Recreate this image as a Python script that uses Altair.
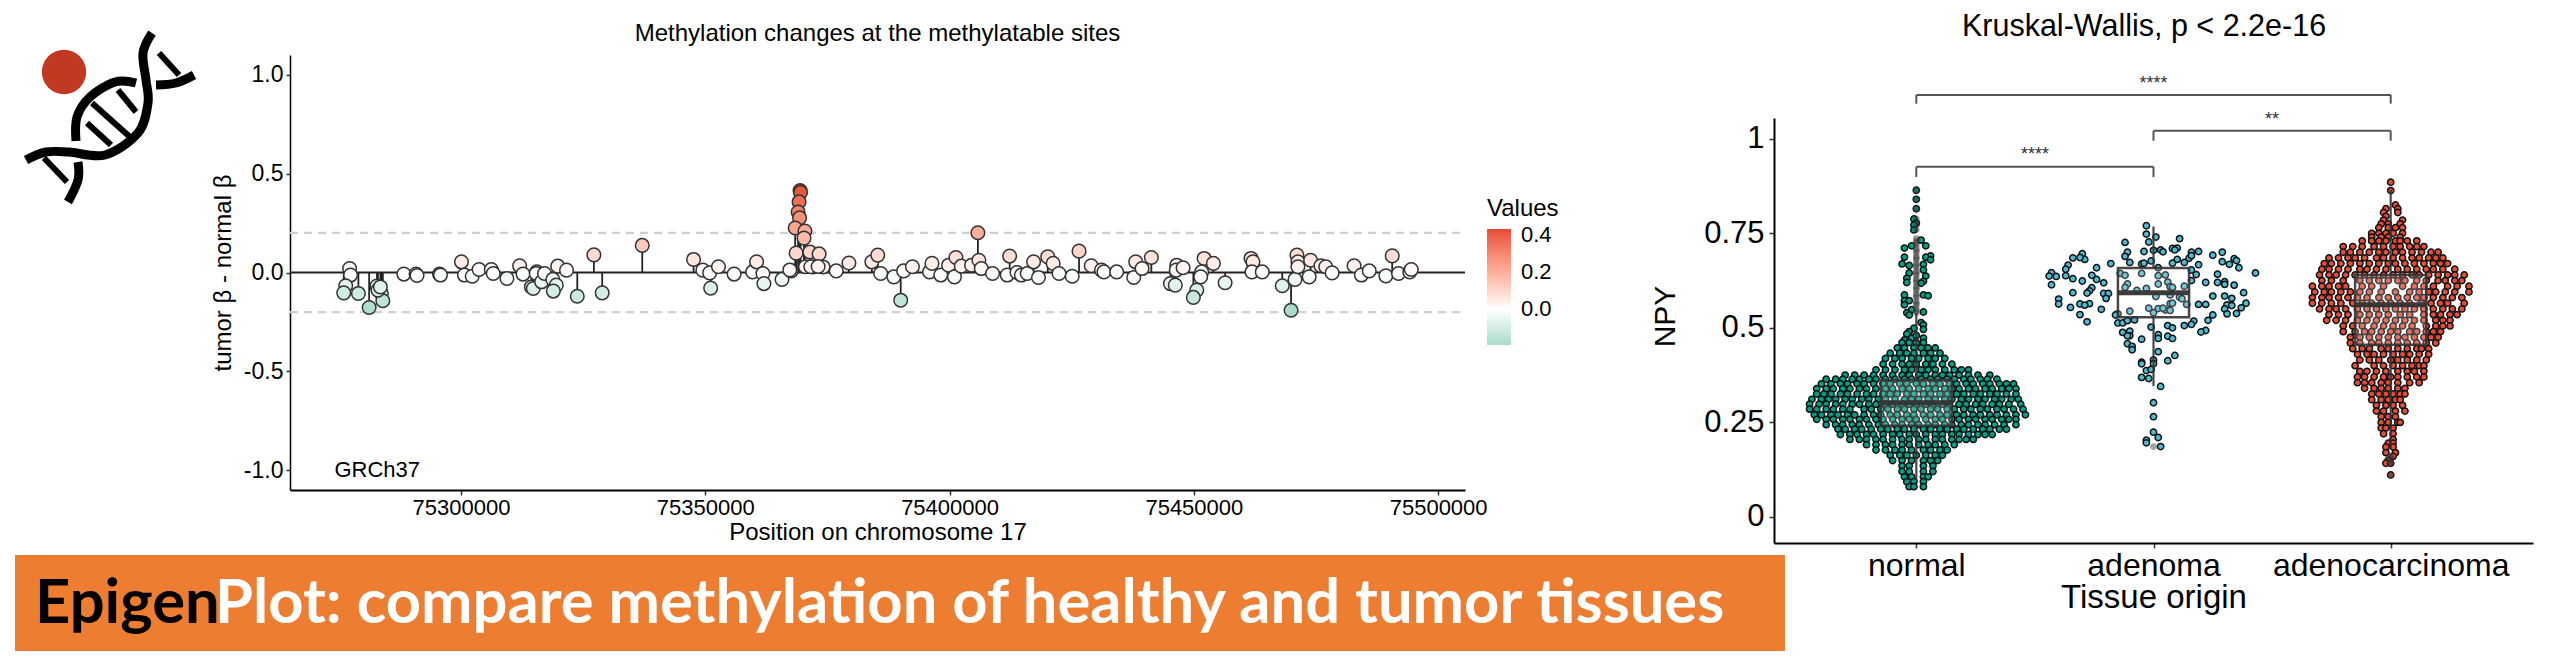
import altair as alt
import pandas as pd

FONT = "Liberation Sans"

# ---------- methylation lollipop: position (kb on chr17), tumor beta - normal beta
POS_KB = [75277.2,75277.4,75276.4,75276.0,75279.0,75281.2,75282.8,75283.7,75284.0,75283.0,75283.5,75288.3,75290.8,75291.0,75295.6,75295.8,
75300.1,75300.7,75302.3,75303.7,75306.2,75306.6,75309.4,75312.0,75312.7,75314.4,75314.8,75315.5,75315.4,75316.5,75317.1,75318.8,75319.5,75318.9,75319.8,75321.6,75323.8,
75327.2,75328.9,75337.1,75347.6,75349.5,75350.9,75351.1,75352.7,75355.9,75359.7,75360.5,75361.8,75362.0,75365.7,75367.6,
75369.4,75369.5,75369.2,75369.0,75369.3,75368.4,75370.4,75370.2,75368.6,75371.4,75373.3,75379.4,75372.1,75367.3,75376.8,75374.1,75370.5,75371.6,75373.1,
75384.1,75385.3,75385.9,75388.6,75390.0,75390.6,75392.4,75395.9,75396.4,75398.2,75399.8,75401.0,75401.3,75402.4,75404.5,75405.8,75406.0,75406.5,75408.8,
75411.8,75412.3,75413.8,75414.7,75415.9,75417.2,75418.2,75420.1,75421.2,75422.4,75425.1,75426.5,75429.0,75431.1,75431.6,75434.2,75437.7,75438.1,75439.4,75441.3,
75445.2,75446.2,75446.5,75446.4,75447.8,75450.6,75449.9,75452.1,75451.6,75454.0,75451.4,75456.4,75461.7,75462.1,75461.9,75464.0,75468.1,75469.9,75470.7,75471.1,75471.3,75471.3,
75473.6,75473.9,75476.0,75477.0,75478.3,75482.8,75484.3,75485.9,75489.3,75490.6,75491.9,75494.2,75494.5]
DELTA = [.020,-.013,-.067,-.103,-.106,-.177,-.069,-.106,-.143,-.089,-.073,-.008,-.008,-.015,-.008,-.013,
.054,-.013,-.019,.015,.015,-.005,-.030,.034,-.008,-.073,-.081,.003,-.005,-.047,-.005,-.035,-.064,-.094,.032,.012,-.120,
.089,-.103,.137,.066,.012,-.002,-.079,.029,-.008,.003,.054,-.005,-.056,-.035,.008,
.414,.405,.357,.306,.276,.225,.21,.174,.098,.104,.094,.048,.028,.013,.008,.028,.029,.029,.03,
.054,.088,-.005,-.022,-.140,.008,.029,.003,.046,-.013,.037,-.022,.076,.032,.037,.201,.062,.020,-.005,
-.013,.083,0,-.013,-.005,.054,-.025,.079,.046,-.005,-.019,.108,.034,.012,.003,.003,-.025,.054,.020,.076,
-.056,-.064,.037,.012,.024,-.089,-.126,.071,.003,.046,-.022,-.052,.071,.054,.003,.003,-.067,-.191,-.035,.088,.054,.029,
-.022,.062,.034,.029,-.002,.034,-.013,.008,-.017,.084,-.005,.003,.015]
X_TICKS = [75300000, 75350000, 75400000, 75450000, 75500000]
Y_TICKS = [-1.0, -0.5, 0.0, 0.5, 1.0]

# ---------- NPY swarm: (NPY, offsets from the category centre in 1/100 category)
NORMAL_PAIRS = [(0,.864),(0,.840),(0,.815),(-1,.788),(0,.777),(-1,.772),(-1,.759),(2,.732),(4,.717),(-5,.711),(-2,.717),(-5,.687),(6,.690),(4,.687),(6,.680),
(-6,.669),(-3,.665),(3,.668),(3,.653),(-3,.645),(4,.637),(-4,.631),(3,.623),(-4,.620),(2,.618),(-5,.587),(3,.587),(5,.585),(-5,.572),(-3,.572),(-5,.561),
(-2,.548),(-4,.540),(-3,.534),(3,.542),(2,.514),(3,.508),(-1,.499),(-3,.490),(3,.496),(-5,.468),(-2,.473),(3,.473),(-4,.484),(0,.480)]
NORMAL_ROWS = [
(.461,[-6,-3,0,3]),
(.447,[-8,-5,-1,2,5,8]),
(.433,[-11,-7,-4,-1,3,6,10]),
(.419,[-13,-9,-6,-2,1,5,8,12]),
(.404,[-14,-10,-6,-3,0,4,7,11,15]),
(.389,[-17,-13,-9,-5,-2,2,5,8,12,16,19,22]),
(.375,[-30,-26,-22,-18,-14,-10,-6,-3,1,4,8,11,14,18,22,26,31]),
(.364,[-38,-34,-31,-27,-24,-20,-17,-13,-9,-5,-2,2,6,9,13,16,20,23,27,30,34]),
(.352,[-40,-36,-32,-29,-25,-22,-18,-14,-11,-7,-4,0,3,7,10,14,17,21,24,28,31,35,38,41]),
(.339,[-42,-38,-35,-31,-28,-24,-21,-17,-13,-10,-6,-3,1,5,8,12,15,18,22,25,29,32,36,39,42]),
(.325,[-42,-39,-36,-32,-29,-25,-21,-18,-14,-11,-8,-4,-1,3,6,10,13,17,20,24,27,31,34,38,42]),
(.311,[-44,-40,-37,-34,-30,-27,-23,-20,-16,-13,-9,-5,-2,1,5,8,12,15,19,22,26,29,33,36,40,43]),
(.298,[-45,-41,-38,-34,-31,-27,-24,-20,-17,-13,-10,-6,-3,0,4,7,11,14,18,21,25,28,32,35,39,44]),
(.285,[-45,-42,-38,-35,-31,-28,-22,-19,-15,-12,-8,-5,-1,2,6,9,13,16,20,23,27,30,34,37,41,45]),
(.270,[-43,-40,-36,-33,-29,-26,-22,-18,-15,-11,-8,-4,-1,3,6,10,13,17,20,24,27,31,34,38,42,46]),
(.258,[-42,-38,-35,-31,-28,-24,-21,-17,-14,-10,-6,-3,0,4,8,11,15,18,22,25,29,32,36,39,42]),
(.244,[-38,-34,-31,-27,-24,-20,-16,-13,-9,-6,-2,1,5,8,12,15,19,22,26,29,33,37,42]),
(.232,[-33,-30,-26,-23,-19,-15,-12,-8,-5,-1,3,6,10,13,17,20,24,28,31,35,38]),
(.218,[-32,-28,-25,-21,-18,-14,-10,-7,-3,0,4,8,11,15,18,22,26,29,32]),
(.205,[-28,-24,-21,-17,-14,-10,-6,-3,1,4,8,11,15,18,21,24]),
(.191,[-21,-17,-13,-10,-6,-3,1,5,8,12,16]),
(.177,[-17,-13,-9,-6,-2,3,6,10,13]),
(.163,[-11,-7,-4,0,4,8,11]),
(.149,[-10,-6,-2,3,6,9]),
(.135,[-6,-3,3,7]),
(.120,[-6,-3,3,7]),
(.106,[-5,-2,3,5]),
(.093,[-4,-1,3]),
(.080,[-3,-1,3]),
]
ADENOMA_PAIRS = [(-3,.770),(-3,.748),(1,.740),(-2,.727),(11,.736),(-12,.726),(-11,.700),(-12,.689),(-4,.702),(0,.705),(3,.706),(4,.701),(8,.710),(10,.711),(9,.706),(16,.700),(19,.702),(15,.684),(16,.691),(25,.692),(29,.700),(29,.675),(32,.668),(34,.683),(35,.678),(36,.659),(43,.645),
(-30,.696),(-34,.685),(-29,.681),(-31,.686),(-36,.666),(-37,.655),(-37,.638),(-43,.646),(-44,.637),(-41,.636),(-34,.630),(-43,.614),(-30,.624),(-24,.659),(-26,.639),(-24,.628),(-21,.619),(-18,.670),(-10,.673),(-5,.669),(-4,.671),(-1,.677),(10,.681),(8,.671),(13,.673),(19,.667),(18,.641),(16,.653),(16,.625),(22,.620),(27,.642),(27,.620),(30,.622),(30,.615),(34,.613),(38,.593),(25,.584),(30,.584),(33,.578),(31,.561),(39,.565),(37,.553),(33,.559),(30,.550),(31,.537),(35,.538),(25,.534),(23,.520),(19,.562),(22,.562),(17,.518),(16,.509),(13,.506),(22,.493),(20,.489),
(-26,.606),(-27,.598),(-28,.592),(-34,.593),(-21,.591),(-19,.591),(-20,.578),(-40,.576),(-40,.563),(-35,.554),(-31,.563),(-27,.564),(-29,.560),(-22,.549),(-31,.535),(-28,.516),(-15,.537),(-16,.534),
(-14,.644),(-12,.639),(-5,.644),(2,.659),(2,.638),(5,.640),(-11,.616),(-12,.607),(2,.616),(6,.621),(7,.609),(13,.610),(-7,.599),(-3,.604),(8,.607),(1,.583),(7,.587),(11,.581),(12,.577),(7,.564),(8,.565),(14,.562),(-10,.544),(-2,.552),(2,.551),(0,.540),(5,.547),(7,.546),(4,.552),
(-15,.513),(-13,.513),(-11,.519),(-8,.521),(-13,.488),(-10,.491),(-10,.479),(-11,.479),(-1,.502),(6,.506),(8,.500),(2,.482),(2,.472),(6,.478),(8,.472),(-5,.470),(-11,.458),(-9,.451),(-9,.442),(2,.437),(9,.427),(6,.413),(-5,.409),(-5,.405),(0,.415),(0,.405),(-3,.387),(-1,.390),(-5,.369),(-2,.366),(3,.345),(0,.302),(0,.265),(0,.224),(-3,.203),(-3,.196),(2,.210),(3,.186)]
CARCINOMA_ROWS = [
(.885,[0]),(.863,[0]),(.825,[2]),(.815,[-2,3]),(.805,[-3,3]),(.795,[-2]),(.785,[-3,5]),(.775,[-4,-1,4]),(.765,[-5,-1,2,5]),
(.750,[-8,-5,-2,1,5]),(.740,[-8,-4,-1,4]),(.730,[-12,-8,-5,-2,2,4,7,11]),
(.715,[-20,-16,-12,-7,-3,1,4,8,11,14]),
(.700,[-20,-17,-13,-9,-5,-2,2,5,9,13,17,20]),
(.685,[-26,-22,-18,-15,-11,-6,-3,1,5,9,12,16,19,22]),
(.670,[-28,-25,-21,-17,-13,-9,-5,-1,2,6,10,14,18,21,24]),
(.655,[-29,-26,-22,-18,-13,-10,-6,-2,3,7,11,15,18,22,27]),
(.640,[-30,-26,-23,-19,-15,-11,-7,-3,1,5,9,12,16,20,24,27,31]),
(.625,[-29,-25,-20,-13,-9,-5,-1,3,6,11,15,20,23,27,30]),
(.610,[-33,-29,-26,-22,-19,-12,-8,-3,5,10,14,18,24,28,33]),
(.595,[-32,-28,-25,-21,-17,-13,-9,-4,2,8,12,16,19,23,27,33]),
(.580,[-33,-29,-26,-22,-18,-14,-10,-5,-1,3,7,11,14,18,22,26,30]),
(.565,[-33,-29,-25,-21,-16,-12,-8,-4,0,4,8,13,17,21,24,31]),
(.550,[-30,-26,-23,-19,-14,-10,-6,-2,2,6,10,14,18,22,26,30]),
(.535,[-26,-22,-18,-13,-9,-5,-1,4,8,14,18,21,25,28]),
(.520,[-27,-23,-19,-14,-10,-6,-2,2,6,10,14,19,22,25]),
(.505,[-20,-16,-12,-7,-3,1,5,9,15,19,22,25]),
(.490,[-20,-15,-11,-8,-4,0,3,8,11,15,18,21]),
(.475,[-17,-13,-9,-5,-1,3,6,10,14,17,20]),
(.460,[-17,-13,-8,-5,-1,3,7,11,15,19]),
(.445,[-16,-12,-9,-4,-1,3,7,11,13,16]),
(.430,[-14,-10,-7,-3,1,5,8,12,16]),
(.415,[-13,-9,-5,0,3,7,11,15]),
(.400,[-15,-7,-3,1,5,9,12,14]),
(.385,[-13,-10,-6,-2,3,7,10,14]),
(.370,[-14,-11,-7,-3,0,3,7,11,14]),
(.355,[-14,-11,-8,-4,-1,3,8,12]),
(.340,[-11,-7,-4,-1,3,6]),
(.325,[-8,-5,-2,1,4,6]),
(.310,[-8,-4,-1,2,4]),
(.295,[-6,-2,1,5]),
(.280,[-6,-3,2,6]),
(.265,[-4,-1,2]),
(.250,[-4,-1,3,4]),
(.235,[-4,-2,1]),
(.220,[-3,1]),(.205,[1]),(.195,[-1,1]),(.185,[-2,1]),(.170,[-2,2]),(.160,[1]),(.150,[-1]),(.142,[-2,0]),(.111,[0]),
]
NORMAL_OUTLIERS = [.54,.545,.55,.56,.565,.57,.58,.585,.59,.60,.605,.61,.62,.625,.63,.64,.645,.65,.66,.665,.67,.68,.685,.69,.70,.705,.71,.72,.725,.73,.737,.76,.772,.788,.815,.84,.864]
ADENOMA_OUTLIERS = [.186]
CARCINOMA_OUTLIERS = [.142,.146,.150,.155,.160,.111]

CATEGORIES = ["normal", "adenoma", "adenocarcinoma"]
BOX_Q1 = [.241, .528, .455]
BOX_MED = [.302, .593, .561]
BOX_Q3 = [.362, .658, .640]
WHISK_LOW = [.098, .346, .178]
WHISK_HIGH = [.54, .768, .865]
CAT_COLORS = ["#00A087", "#4DBBD5", "#E64B35"]

# brackets: from category, to category, level, foot level
BR_FROM = [1, 2, 1]
BR_TO = [3, 3, 2]
BR_Y = [1.116, 1.021, .926]
BR_FOOT = [1.093, .995, .899]
BR_LABEL = ["****", "**", "****"]

# ---------- logo strands (logo units)
LOGO_LINES = {
 "a": [(149,33),(140,53),(143,80),(145,103),(135,133),(102,155),(66,152),(43,152),(23,160)],
 "b": [(191,75),(173,83),(153,85)],
 "c": [(133,83),(112,82),(87,97),(74,117),(73,141)],
 "d": [(75,162),(75,180),(65,202)],
}
LOGO_RUNGS = {
 "r1": [(156,53),(176,75)], "r2": [(115,90),(133,112)], "r3": [(89,103),(127,137)],
 "r4": [(84,123),(108,145)], "r5": [(41,158),(64,182)],
}
LOGO_DOT = [(61, 72)]
BANNER_BOX = [(12, 1782, 555, 651)]
BANNER_X = [32, 212]
BANNER_Y = [623, 623]
BANNER_T = ["Epigen", "Plot: compare methylation of healthy and tumor tissues"]
BANNER_C = ["#000000", "#ffffff"]

# ---------- frames
df_m = pd.DataFrame({"pos": [p * 1000 for p in POS_KB], "delta": DELTA})
mx_scale = alt.Scale(domain=[75265000, 75505500], range=[0, 1175], nice=False, zero=False)
my_scale = alt.Scale(domain=[-1.1, 1.1], range=[482, 47], nice=False, zero=False)
mx_axis = alt.Axis(values=X_TICKS, format="d", title="Position on chromosome 17", grid=False,
                   labelFont=FONT, titleFont=FONT, labelFontSize=22, titleFontSize=24, titleFontWeight="normal",
                   labelColor="#000", titleColor="#000", domainColor="#000", domainWidth=2, tickColor="#333",
                   tickSize=5, tickWidth=1.5, labelPadding=2, titlePadding=2)
my_axis = alt.Axis(values=Y_TICKS, labelExpr="replace(format(datum.value,'.1f'),'\u2212','-')", title="tumor \u03b2 - normal \u03b2", grid=False,
                   labelFont=FONT, titleFont=FONT, labelFontSize=23, titleFontSize=24, titleFontWeight="normal",
                   labelColor="#000", titleColor="#000", domainColor="#000", domainWidth=1.5, tickColor="#333",
                   tickSize=4, tickWidth=1.5, labelPadding=3, titlePadding=8)
mxs = alt.X("pos:Q", scale=mx_scale, axis=mx_axis)
mys = alt.Y("delta:Q", scale=my_scale, axis=my_axis)
base_x = pd.DataFrame({"pos": [75265000, 75505500], "delta": [0, 0]})

dash = alt.Chart(pd.DataFrame({"pos": [75265000, 75505500] * 2, "delta": [.2, .2, -.2, -.2], "g": ["a", "a", "b", "b"]})).mark_line(
    color="#cfcfcf", strokeWidth=2.2, strokeDash=[8, 6]).encode(x=mxs, y=mys, detail="g:N")
base = alt.Chart(base_x).mark_line(color="#222", strokeWidth=2).encode(x=mxs, y=mys)
stems = alt.Chart(df_m.assign(zero=0)).mark_rule(color="#222", strokeWidth=1.8).encode(x=mxs, y=mys, y2="zero:Q")
color_scale = alt.Scale(domain=[-0.19, 0, 0.43], range=["#a9dccd", "#ffffff", "#e64b35"], interpolate="lab")
dots = alt.Chart(df_m).mark_point(filled=True, size=185, stroke="#333", strokeWidth=1.5, opacity=1).encode(
    x=mxs, y=mys,
    fill=alt.Fill("delta:Q", scale=color_scale, legend=alt.Legend(
        title="Values", values=[0, 0.2, 0.4], format=".1f", orient="none", legendX=1197, legendY=189,
        gradientLength=116, gradientThickness=24, labelFont=FONT, titleFont=FONT, labelFontSize=22, titleFontSize=24,
        titleFontWeight="normal", labelColor="#000", titleColor="#000", labelOffset=10, titlePadding=8, gradientStrokeWidth=0)))
m_title = alt.Chart(pd.DataFrame({"pos": [75385250], "delta": [1.206], "t": ["Methylation changes at the methylatable sites"]})).mark_text(
    font=FONT, fontSize=24, color="#000", baseline="middle", align="center").encode(x=mxs, y=mys, text="t:N")
m_ref = alt.Chart(pd.DataFrame({"pos": [75274100], "delta": [-1.0], "t": ["GRCh37"]})).mark_text(
    font=FONT, fontSize=22, color="#000", baseline="middle", align="left").encode(x=mxs, y=mys, text="t:N")
methyl = alt.layer(dash, base, stems, dots, m_title, m_ref).properties(width=1484, height=482)

# NPY
rows = []
def add(cat, off, v):
    rows.append({"x": cat + off / 100, "npy": v, "c": CATEGORIES[cat - 1]})
for o, v in NORMAL_PAIRS: add(1, o, v)
for v, offs in NORMAL_ROWS:
    for o in offs: add(1, o, v)
for o, v in ADENOMA_PAIRS: add(2, o, v)
for v, offs in CARCINOMA_ROWS:
    for o in offs: add(3, o, v)
df_s = pd.DataFrame(rows)
df_o = pd.DataFrame(
    [{"x": 1, "npy": v} for v in NORMAL_OUTLIERS] + [{"x": 2, "npy": v} for v in ADENOMA_OUTLIERS] + [{"x": 3, "npy": v} for v in CARCINOMA_OUTLIERS])
df_b = pd.DataFrame({"cat": [1, 2, 3], "x0": [.85, 1.85, 2.85], "x1": [1.15, 2.15, 3.15], "q1": BOX_Q1, "med": BOX_MED,
                     "q3": BOX_Q3, "lo": WHISK_LOW, "hi": WHISK_HIGH})

sx_scale = alt.Scale(domain=[0.4, 3.6], nice=False, zero=False)
sy_scale = alt.Scale(domain=[-0.069, 1.055], range=[535, 110], nice=False, zero=False)
label_map = "{1:'normal',2:'adenoma',3:'adenocarcinoma'}[datum.value]"
sx_axis = alt.Axis(values=[1, 2, 3], labelExpr=label_map, title="Tissue origin", grid=False, labelLimit=400,
           labelFont=FONT, titleFont=FONT, labelFontSize=32, titleFontSize=33, titleFontWeight="normal", labelColor="#000",
           titleColor="#000", domainColor="#000", domainWidth=2, tickColor="#333", tickSize=5, tickWidth=1.5, labelPadding=2, titlePadding=0)
sy_axis = alt.Axis(values=[0, .25, .5, .75, 1], format=".2~f", title=None, grid=False,
           labelFont=FONT, labelFontSize=31, labelColor="#000",
           domainColor="#000", domainWidth=2, tickColor="#333", tickSize=5, tickWidth=1.5, labelPadding=5)
def X(f): return alt.X(f, scale=sx_scale, axis=sx_axis)
def Y(f): return alt.Y(f, scale=sy_scale, axis=sy_axis)

swarm = alt.Chart(df_s).mark_point(filled=True, size=40, stroke="#111", strokeWidth=1.5, opacity=1).encode(
    x=X("x:Q"), y=Y("npy:Q"), fill=alt.Fill("c:N", scale=alt.Scale(domain=CATEGORIES, range=CAT_COLORS), legend=None))
outs = alt.Chart(df_o).mark_point(filled=True, size=45, color="#333", opacity=0.45, strokeWidth=0).encode(x=X("x:Q"), y=Y("npy:Q"))
whisk = alt.Chart(df_b.melt(id_vars=["cat", "q1", "q3"], value_vars=["lo", "hi"], value_name="end")).transform_calculate(
    edge="datum.variable == 'lo' ? datum.q1 : datum.q3").mark_rule(
    color="#333", strokeWidth=2.2, opacity=0.9).encode(x=X("cat:Q"), y=Y("end:Q"), y2=alt.Y2("edge:Q"))
box = alt.Chart(df_b).mark_rect(fill="#fff", fillOpacity=0.2, stroke="#333", strokeOpacity=0.9, strokeWidth=2.5).encode(
    x=X("x0:Q"), x2="x1:Q", y=Y("q1:Q"), y2="q3:Q")
med = alt.Chart(df_b).mark_rule(color="#333", strokeWidth=5, opacity=0.95).encode(x=X("x0:Q"), x2="x1:Q", y=Y("med:Q"))
br_rows = []
for f, t, y, fo, lab in zip(BR_FROM, BR_TO, BR_Y, BR_FOOT, BR_LABEL):
    br_rows.append({"x": f, "x2": t, "npy": y, "npy2": y})
    br_rows.append({"x": f, "x2": f, "npy": y, "npy2": fo})
    br_rows.append({"x": t, "x2": t, "npy": y, "npy2": fo})
bracket = alt.Chart(pd.DataFrame(br_rows)).mark_rule(color="#555", strokeWidth=2).encode(x=X("x:Q"), x2="x2:Q", y=Y("npy:Q"), y2="npy2:Q")
df_star = pd.DataFrame({"x": [(f + t) / 2 for f, t in zip(BR_FROM, BR_TO)], "npy": [y + 0.03 for y in BR_Y], "t": BR_LABEL})
stars = alt.Chart(df_star).mark_text(font=FONT, fontSize=18, color="#333", baseline="middle").encode(x=X("x:Q"), y=Y("npy:Q"), text="t:N")
s_title = alt.Chart(pd.DataFrame({"x": [1.96], "npy": [1.295], "t": ["Kruskal-Wallis, p < 2.2e-16"]})).mark_text(
    font=FONT, fontSize=30.5, color="#000", baseline="middle", align="center").encode(x=X("x:Q"), y=Y("npy:Q"), text="t:N")
s_ytitle = alt.Chart(pd.DataFrame({"x": [-0.057], "npy": [.530], "t": ["NPY"]})).mark_text(
    font=FONT, fontSize=30, color="#000", baseline="middle", align="center", angle=270).encode(x=X("x:Q"), y=Y("npy:Q"), text="t:N")
npy = alt.layer(swarm, outs, whisk, box, med, bracket, stars, s_title, s_ytitle).properties(width=759, height=535)

# Logo and banner share one panel with layout-unit scales
lx = alt.X("lx:Q", scale=alt.Scale(domain=[12, 287], range=[0, 275], nice=False, zero=False), axis=None)
ly = alt.Y("ly:Q", scale=alt.Scale(domain=[8, 651], range=[0, 643], nice=False, zero=False), axis=None)
def frame(d):
    return pd.DataFrame([{"g": k, "i": i, "lx": p[0], "ly": p[1]} for k, pts in d.items() for i, p in enumerate(pts)])
l_str = alt.Chart(frame(LOGO_LINES)).mark_line(color="#000", strokeWidth=9, interpolate="cardinal", strokeCap="butt").encode(
    x=lx, y=ly, detail="g:N", order="i:Q")
l_run = alt.Chart(frame(LOGO_RUNGS)).mark_line(color="#000", strokeWidth=6).encode(x=lx, y=ly, detail="g:N", order="i:Q")
l_dot = alt.Chart(pd.DataFrame(LOGO_DOT, columns=["lx", "ly"])).mark_point(filled=True, size=1960, color="#C23820", opacity=1).encode(x=lx, y=ly)
b_rect = alt.Chart(pd.DataFrame(BANNER_BOX, columns=["lx", "x2", "ly", "y2"])).mark_rect(color="#ED7D31").encode(x=lx, x2="x2:Q", y=ly, y2="y2:Q")
b_text = alt.Chart(pd.DataFrame({"lx": BANNER_X, "ly": BANNER_Y, "t": BANNER_T, "c": BANNER_C})).mark_text(
    font="Lato", fontWeight="bold", fontSize=61.5, align="left", baseline="alphabetic").encode(x=lx, y=ly, text="t:N", color=alt.Color("c:N", scale=None))
logo = alt.layer(l_str, l_run, l_dot, b_rect, b_text).properties(width=275, height=643)

chart = alt.hconcat(logo, methyl, npy).properties(
    spacing=0, bounds="flush", padding={"left": 0, "top": 0, "right": 9, "bottom": 0}
).configure_view(stroke=None)
chart.save("out.html", embed_options={"renderer": "svg", "actions": False})
